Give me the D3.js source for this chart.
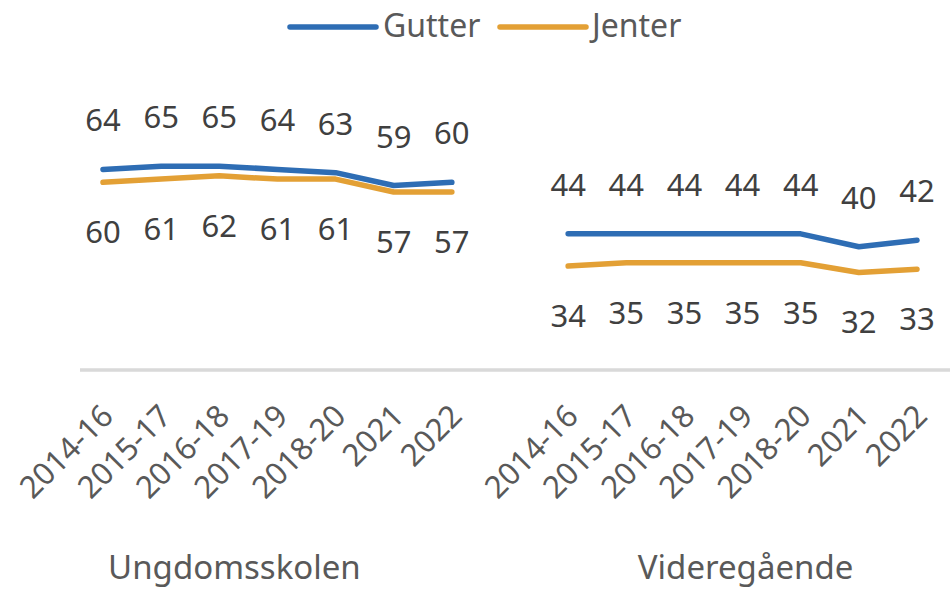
<!DOCTYPE html>
<html><head><meta charset="utf-8">
<script src="https://cdn.jsdelivr.net/npm/d3@7"></script>
<style>body{margin:0;background:#fff}svg{display:block}text{font-family:"Noto Sans",Roboto,sans-serif;fill:#404040}</style>
</head><body><svg id="c" width="950" height="589"></svg>
<script>
const years = ["2014-16","2015-17","2016-18","2017-19","2018-20","2021","2022"];
const groups = ["Ungdomsskolen","Videregående"];
const gutterU = [64,65,65,64,63,59,60];
const jenterU = [60,61,62,61,61,57,57];
const gutterV = [44,44,44,44,44,40,42];
const jenterV = [34,35,35,35,35,32,33];
const seriesNames = ["Gutter","Jenter"];
const colors = ["#2E6DB4","#E3A035"];

const svg = d3.select("#c");
const FS = 31;
// 15 slots: 7 + gap + 7
const slots = d3.range(15);
const x = d3.scalePoint().domain(slots).range([103,917]);
const y = d3.scaleLinear().domain([0,100]).range([375.5,53.5]);

const data = [
  {g:0, s:0, vals:gutterU}, {g:0, s:1, vals:jenterU},
  {g:1, s:0, vals:gutterV}, {g:1, s:1, vals:jenterV}
];
const slotOf = (g,i)=> g*8 + i;

// baseline
svg.append("line").attr("x1",80).attr("x2",950).attr("y1",370).attr("y2",370)
  .attr("stroke","#d9d9d9").attr("stroke-width",3.5);

const line = d3.line().x(d=>x(d.slot)).y(d=>y(d.v));
data.forEach(d=>{
  const pts = d.vals.map((v,i)=>({slot:slotOf(d.g,i), v}));
  svg.append("path").datum(pts).attr("d",line).attr("fill","none")
    .attr("stroke",colors[d.s]).attr("stroke-width",5.5).attr("stroke-linecap","round").attr("stroke-linejoin","round");
  svg.selectAll(null).data(pts).enter().append("text")
    .attr("x",p=>x(p.slot)).attr("y",p=> d.s===0 ? y(p.v)-38 : y(p.v)+61)
    .attr("text-anchor","middle").attr("font-size",FS).text(p=>p.v);
});

// category labels
const groupLabelOffset = [-43, 3];
groups.forEach((g,gi)=>{
  years.forEach((yr,i)=>{
    const sx = x(slotOf(gi,i));
    svg.append("text").attr("transform",`translate(${sx+12},${418}) rotate(-45)`)
      .attr("text-anchor","end").attr("font-size",FS).style("fill","#595959").text(yr);
  });
  const cx = x(slotOf(gi,3)) + groupLabelOffset[gi];
  svg.append("text").attr("x",cx).attr("y",579).attr("text-anchor","middle").attr("font-size",33)
    .style("fill","#595959").text(g);
});

// legend
const leg = [{x1:290,x2:376,tx:383},{x1:500,x2:586,tx:592}];
leg.forEach((l,i)=>{
  svg.append("line").attr("x1",l.x1).attr("x2",l.x2).attr("y1",27).attr("y2",27)
    .attr("stroke",colors[i]).attr("stroke-width",5.5).attr("stroke-linecap","round");
  svg.append("text").attr("x",l.tx).attr("y",37).attr("font-size",32).style("fill","#595959").text(seriesNames[i]);
});
</script></body></html>
